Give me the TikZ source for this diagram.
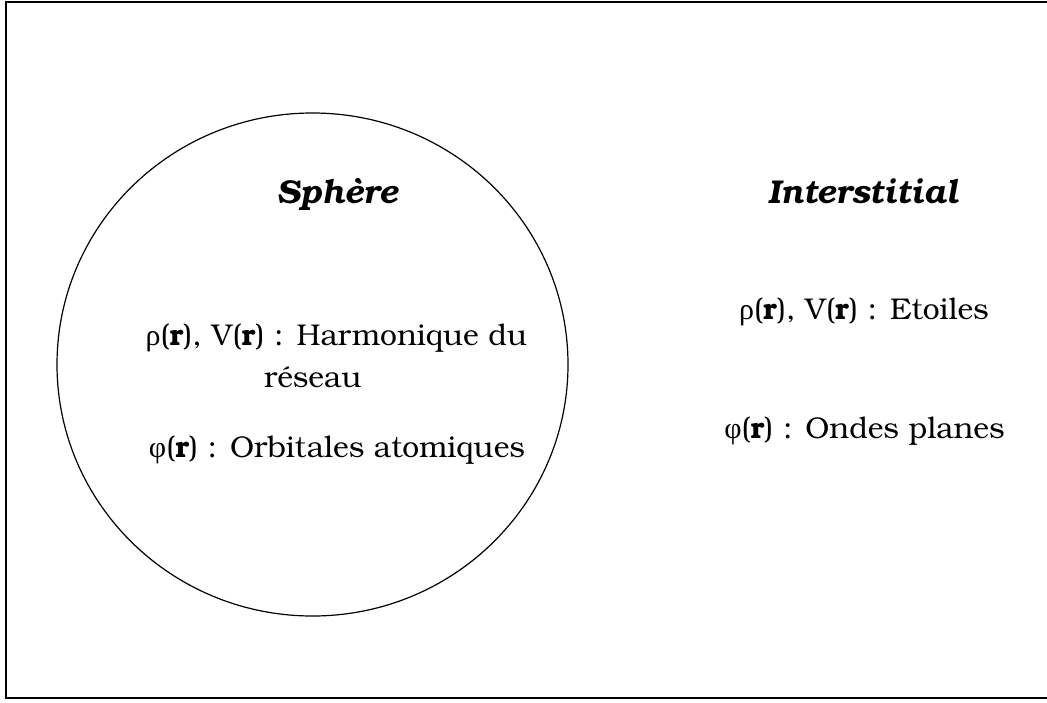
\documentclass[tikz,border=0pt]{standalone}
\usepackage{fontspec}
\setmainfont{TeX Gyre Bonum}
\newfontfamily\grk{Liberation Serif}
\begin{document}
\begin{tikzpicture}[x=1pt,y=-1pt,
  body/.style={anchor=base,inner sep=0pt,font=\fontsize{30}{34}\selectfont},
  head/.style={anchor=base,inner sep=0pt,font=\fontsize{33}{38}\selectfont\bfseries\itshape}]
\useasboundingbox (0,0) rectangle (1047,702);
\draw[line width=1.6pt] (6,2) rectangle (1060,698);
\draw[line width=1.2pt] (312.5,364.5) ellipse [x radius=255.5, y radius=251.5];
\node[head] (sph) at (337,203) {Sphère};
\node[head] (int) at (863,203) {Interstitial};
\node[body] (s1) at (336.5,345) {{\grk ρ}(\textbf{r}), V(\textbf{r}) : Harmonique du};
\node[body] (s2) at (313,387) {réseau};
\node[body] (s3) at (337,457) {{\grk φ}(\textbf{r}) : Orbitales atomiques};
\node[body] (i1) at (864,319) {{\grk ρ}(\textbf{r}), V(\textbf{r}) : Etoiles};
\node[body] (i2) at (864.5,438) {{\grk φ}(\textbf{r}) : Ondes planes};
\end{tikzpicture}
\end{document}
